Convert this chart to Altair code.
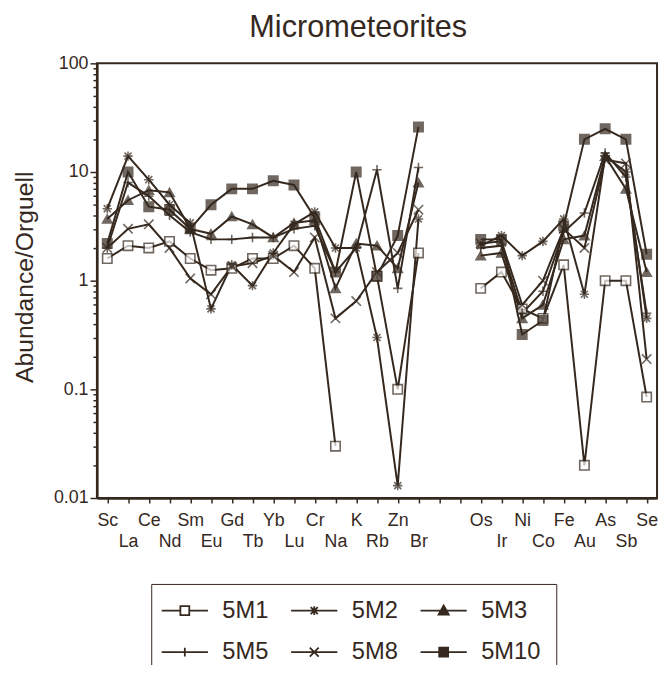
import altair as alt
import pandas as pd

INK = "#35281e"
FONT = "Liberation Sans"

# x slots (two blank slots separate the two element groups)
slot_labels = ["Sc", "La", "Ce", "Nd", "Sm", "Eu", "Gd", "Tb", "Yb", "Lu", "Cr", "Na",
               "K", "Rb", "Zn", "Br", "", "", "Os", "Ir", "Ni", "Co", "Fe", "Au", "As",
               "Sb", "Se"]
used_slots = list(range(0, 16)) + list(range(18, 27))

series_names = ["5M1", "5M2", "5M3", "5M5", "5M8", "5M10"]

v_5M1 = [1.6, 2.1, 2.0, 2.3, 1.6, 1.25, 1.3, 1.6, 1.6, 2.1, 1.3, 0.03, None, 1.1, 0.1, 1.8,
         0.85, 1.2, 0.55, 0.45, 1.4, 0.02, 1.0, 1.0, 0.085]
v_5M2 = [4.6, 14, 8.5, 5.0, 3.4, 0.55, 1.4, 0.9, 1.8, 3.3, 4.3, 2.0, 2.0, 0.3, 0.013, 3.7,
         2.1, 2.6, 1.7, 2.3, 3.7, 0.75, 14, 10, 0.45]
v_5M3 = [3.7, 5.5, 6.8, 6.5, 3.0, 2.7, 3.9, 3.3, 2.5, 3.4, 3.6, 0.85, 2.2, 2.1, 1.3, 8.0,
         1.7, 1.8, 0.45, 0.6, 2.4, 2.6, 14, 7.0, 1.2]
v_5M5 = [2.0, 8.0, 6.0, 4.0, 2.8, 2.4, 2.4, 2.5, 2.5, 3.0, 3.2, 1.2, 2.0, 10.5, 0.85, 11,
         2.0, 2.1, 0.5, 0.8, 2.8, 4.2, 15, 9.0, 0.5]
v_5M8 = [2.0, 3.0, 3.3, 2.0, 1.05, 0.75, 1.35, 1.45, 1.7, 1.2, 2.5, 0.45, 0.65, 1.2, 1.8, 4.5,
         2.2, 2.3, 0.6, 1.0, 3.0, 2.0, 13, 12, 0.19]
v_5M10 = [2.2, 10, 4.8, 4.5, 3.0, 5.0, 7.0, 7.0, 8.3, 7.6, 3.8, 1.2, 10, 1.1, 2.6, 26,
          2.4, 2.4, 0.32, 0.43, 3.2, 20, 25, 20, 1.75]

series_values = [v_5M1, v_5M2, v_5M3, v_5M5, v_5M8, v_5M10]

# marker styles
point_shapes = [
    "square",
    "M-1,0L1,0M0,-1L0,1M-0.75,-0.75L0.75,0.75M-0.75,0.75L0.75,-0.75",
    "triangle-up",
    "M-1,0L1,0M0,-1L0,1",
    "M-1,-1L1,1M-1,1L1,-1",
    "square",
]
legend_shapes = [
    "M-5.2,0L-1,0M1,0L5.2,0M-1,-1L1,-1L1,1L-1,1Z",
    "M-5.2,0L5.2,0M0,-1L0,1M-0.8,-0.8L0.8,0.8M-0.8,0.8L0.8,-0.8",
    "M-5.2,0L5.2,0M0,-1.15L1.15,0.9L-1.15,0.9Z",
    "M-5.2,0L5.2,0M0,-1L0,1",
    "M-5.2,0L5.2,0M-1,-1L1,1M-1,1L1,-1",
    "M-5.2,0L5.2,0M-1,-1L1,-1L1,1L-1,1Z",
]
fills = ["white", "transparent", INK, "transparent", "transparent", INK]
strokes = [INK] * 6

rows = []
for name, vals in zip(series_names, series_values):
    seg = 0
    for slot, v in zip(used_slots, vals):
        if slot == 18:
            seg += 1
        if v is None:
            seg += 1
            continue
        rows.append({"series": name, "pos": slot, "value": v, "seg": f"{name}-{seg}"})
df = pd.DataFrame(rows)

names_js = "[" + ",".join(f"'{n}'" for n in slot_labels) + "]"
x_label_expr = (f"datum.value % 2 == 0 ? {names_js}[datum.value] : "
                f"['', {names_js}[datum.value]]")

major_test = "abs(log(datum.value)/LN10 - round(log(datum.value)/LN10)) < 0.001"
y_label_expr = (f"{major_test} ? (datum.value >= 1 ? format(datum.value, 'd') : "
                f"format(datum.value, '.2~f')) : ''")
y_values = [m * 10 ** e for e in range(-2, 2) for m in range(1, 10)] + [100]
y_values = [float(f"{v:.4g}") for v in y_values]

x_axis = alt.Axis(
    values=list(range(27)), labelExpr=x_label_expr, grid=False, title=None,
    labelOverlap=False, labelFlush=False, labelFontSize=18, labelFont=FONT,
    labelColor=INK, labelLineHeight=21, labelPadding=9, tickSize=5,
    tickColor=INK, tickWidth=1.5, domainColor=INK, domainWidth=2.5,
)
y_axis = alt.Axis(
    values=y_values, labelExpr=y_label_expr, grid=False,
    title="Abundance/Orguell", titleFontSize=25, titleFont=FONT,
    titleColor=INK, titleFontWeight="normal", titleX=-73, titleY=216,
    titleAngle=-90, titleBaseline="middle", titleAlign="center",
    labelOverlap=False, labelFlush=False, labelFontSize=18, labelFont=FONT,
    labelColor=INK, labelPadding=2,
    tickSize={"condition": {"test": major_test, "value": 7}, "value": 4},
    tickColor=INK, tickWidth=1.5, domainColor=INK, domainWidth=2.5,
)
x_enc = alt.X("pos:Q", scale=alt.Scale(domain=[-0.5, 26.5], nice=False, zero=False),
              axis=x_axis)
y_enc = alt.Y("value:Q", scale=alt.Scale(type="log", domain=[0.01, 100], nice=False),
              axis=y_axis)

base = alt.Chart(df)

lines = base.mark_line(color=INK, strokeWidth=2).encode(
    x=x_enc, y=y_enc, detail="seg:N", order="pos:Q"
)

points = base.mark_point(filled=False, stroke=INK, strokeWidth=1.6, size=90).encode(
    x=x_enc, y=y_enc,
    shape=alt.Shape("series:N", scale=alt.Scale(domain=series_names, range=point_shapes), legend=None),
    fill=alt.Fill("series:N", scale=alt.Scale(domain=series_names, range=fills), legend=None),
)

leg = alt.Legend(
    title=None, orient="none", legendX=55, legendY=527, columns=3, direction="horizontal",
    labelFontSize=24, labelFont=FONT, labelColor=INK, labelLimit=0,
    symbolSize=81, symbolStrokeWidth=1.8, symbolStrokeColor=INK, symbolOpacity=1,
    symbolOffset=7, labelOffset=26, columnPadding=18, rowPadding=18, padding=15,
    strokeColor=INK,
)

# legend-only layer: no marks drawn (empty after filter), its scales carry the legend
legend_layer = base.transform_filter("datum.value < 0").mark_point(
    filled=False, strokeWidth=1.5, size=80
).encode(
    x=x_enc, y=y_enc,
    shape=alt.Shape("series:N", scale=alt.Scale(domain=series_names, range=legend_shapes), legend=leg),
    fill=alt.Fill("series:N", scale=alt.Scale(domain=series_names, range=fills), legend=leg),
    stroke=alt.Stroke("series:N", scale=alt.Scale(domain=series_names, range=strokes), legend=leg),
)

chart = alt.layer(lines, points, legend_layer).resolve_scale(
    shape="independent", fill="independent", stroke="independent"
).properties(
    width=567, height=440,
    title=alt.TitleParams("Micrometeorites", fontSize=31, font=FONT, color=INK,
                          fontWeight="normal", anchor="middle", dx=-19, offset=11),
    autosize=alt.AutoSizeParams(type="none"),
    padding={"left": 90, "top": 52, "right": 2, "bottom": 165},
).configure_view(stroke=INK, strokeWidth=2)

chart.save("out.html", embed_options={"renderer": "svg", "actions": False})
